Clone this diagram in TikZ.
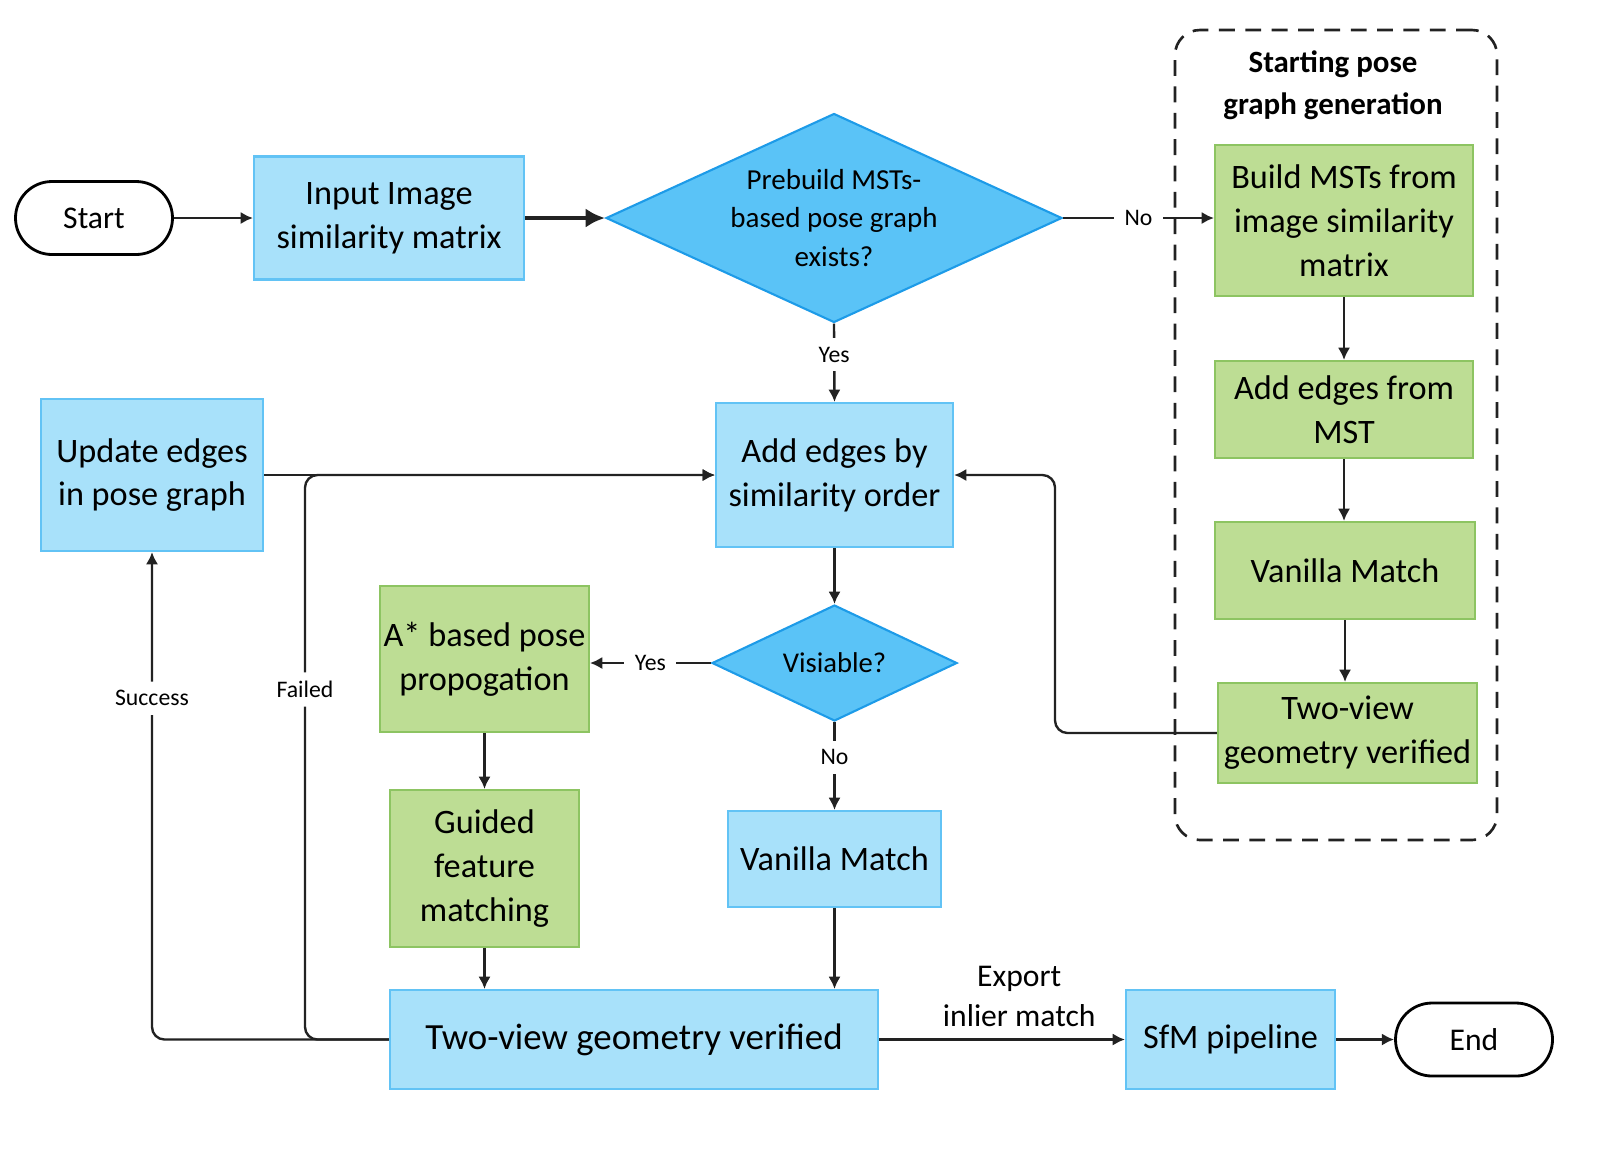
\documentclass[tikz,border=0pt]{standalone}
\usepackage{fontspec}
\setmainfont{Carlito}
\usepackage{xcolor}
\usetikzlibrary{positioning, shapes.geometric, arrows.meta}

\definecolor{bluefill}{HTML}{A8E1FA}
\definecolor{blueline}{HTML}{62C3F5}
\definecolor{decfill}{HTML}{5AC3F7}
\definecolor{decline}{HTML}{1D9BE8}
\definecolor{greenfill}{HTML}{BDDD94}
\definecolor{greenline}{HTML}{8DC462}
\definecolor{linecol}{HTML}{222222}

\begin{document}
\begin{tikzpicture}[
        >={Latex[length=7pt,width=7pt]},
        every node/.style={font=\fontsize{19.5}{25}\selectfont, align=center},
        bluebox/.style={rectangle, draw=blueline, fill=bluefill, line width=1.2pt, inner sep=2pt},
        greenbox/.style={rectangle, draw=greenline, fill=greenfill, line width=1.2pt, inner sep=2pt},
        decision/.style={diamond, draw=decline, fill=decfill, line width=1.2pt, aspect=2.2, inner sep=0pt},
        terminal/.style={rectangle, rounded corners=0.73cm, draw=black, line width=1.6pt, minimum width=3.14cm, minimum height=1.46cm, font=\fontsize{18}{22}\selectfont},
        lab/.style={font=\fontsize{13.5}{16}\selectfont, fill=white, inner xsep=6pt, inner ysep=5pt},
        flow/.style={draw=linecol, line width=1.35pt, ->}]
        \useasboundingbox (0,0) rectangle (32.34,-23.28);

        % Riquadro generazione
        \node (frame) at (26.72,-8.70) [draw=linecol, line width=1.5pt, dash pattern=on 9pt off 6pt, rounded corners=0.5cm, minimum width=6.44cm, minimum height=16.2cm] {};
        \node (title) at (26.66,-1.70) [font=\bfseries\fontsize{17.6}{24}\selectfont] {Starting pose\\graph generation};

        % Percorso principale
        \node (start) at (1.88,-4.36) [terminal] {Start};
        \node (input) at (7.78,-4.36) [bluebox, minimum width=5.40cm, minimum height=2.46cm] {Input Image\\similarity matrix};
        \node (prebuild) at (16.68,-4.36) [decision, minimum width=9.12cm, minimum height=4.18cm, font=\fontsize{16.5}{22}\selectfont] {Prebuild MSTs-\\based pose graph\\exists?};
        \node (addsim) at (16.69,-9.50) [bluebox, minimum width=4.74cm, minimum height=2.88cm] {Add edges by\\similarity order};
        \node (update) at (3.04,-9.50) [bluebox, minimum width=4.44cm, minimum height=3.04cm] {Update edges\\in pose graph};
        \node (visible) at (16.69,-13.26) [decision, minimum width=4.90cm, minimum height=2.32cm, font=\fontsize{16.3}{20}\selectfont] {Visiable?};
        \node (astar) at (9.69,-13.18) [greenbox, minimum width=3.78cm, minimum height=2.92cm] {A* based pose\\propogation};
        \node (guided) at (9.69,-17.37) [greenbox, minimum width=3.78cm, minimum height=3.14cm] {Guided\\feature\\matching};
        \node (vanillab) at (16.69,-17.18) [bluebox, minimum width=4.26cm, minimum height=1.92cm] {Vanilla Match};
        \node (twoviewb) at (12.68,-20.79) [bluebox, minimum width=9.76cm, minimum height=1.98cm, font=\fontsize{21}{26}\selectfont] {Two-view geometry verified};
        \node (sfm) at (24.61,-20.79) [bluebox, minimum width=4.18cm, minimum height=1.98cm] {SfM pipeline};
        \node (finish) at (29.48,-20.79) [terminal] {End};

        % Generazione del grafo iniziale
        \node (buildmst) at (26.88,-4.41) [greenbox, minimum width=5.16cm, minimum height=3.02cm] {Build MSTs from\\image similarity\\matrix};
        \node (addmst) at (26.88,-8.19) [greenbox, minimum width=5.16cm, minimum height=1.94cm] {Add edges from\\MST};
        \node (vanillag) at (26.90,-11.41) [greenbox, minimum width=5.20cm, minimum height=1.94cm] {Vanilla Match};
        \node (twoviewg) at (26.95,-14.66) [greenbox, minimum width=5.18cm, minimum height=2.00cm] {Two-view\\geometry verified};

        \coordinate (failturn) at (6.10,-9.50);
        \coordinate (backturn) at (21.10,-9.50);

        % Collegamenti
        \draw[flow] (start) -- (input);
        \draw[flow, line width=2.2pt, -{Latex[length=11pt,width=11pt]}] (input) -- (prebuild);
        \draw[flow] (prebuild.east) -- (prebuild.east -| buildmst.west) node[lab, midway] {No};
        \draw[flow] (prebuild.south) -- (addsim.north) node[lab, pos=0.4] {Yes};
        \draw[flow] (buildmst) -- (addmst);
        \draw[flow] (addmst.south) -- (addmst.south |- vanillag.north);
        \draw[flow] (vanillag.south) -- (vanillag.south |- twoviewg.north);
        \draw[flow, rounded corners=0.25cm] (twoviewg.west) -| (backturn) -- (addsim.east);
        \draw[flow] (update.east) -- (addsim.west);
        \draw[flow, rounded corners=0.25cm] (twoviewb.west) -| (failturn) node[lab, pos=0.81] {Failed} -- (addsim.west);
        \draw[flow, rounded corners=0.25cm] (twoviewb.west) -| (update.south) node[lab, pos=0.85] {Success};
        \draw[flow] (addsim) -- (visible);
        \draw[flow] (visible.west) -- (visible.west -| astar.east) node[lab, midway] {Yes};
        \draw[flow] (visible) -- (vanillab) node[lab, pos=0.4] {No};
        \draw[flow] (astar) -- (guided);
        \draw[flow] (guided.south) -- (guided.south |- twoviewb.north);
        \draw[flow] (vanillab.south) -- (vanillab.south |- twoviewb.north);
        \draw[flow] (twoviewb) -- (sfm) node[pos=0.57, above=3pt, font=\fontsize{18}{23}\selectfont] {Export\\inlier match};
        \draw[flow] (sfm) -- (finish);
    \end{tikzpicture}
\end{document}
